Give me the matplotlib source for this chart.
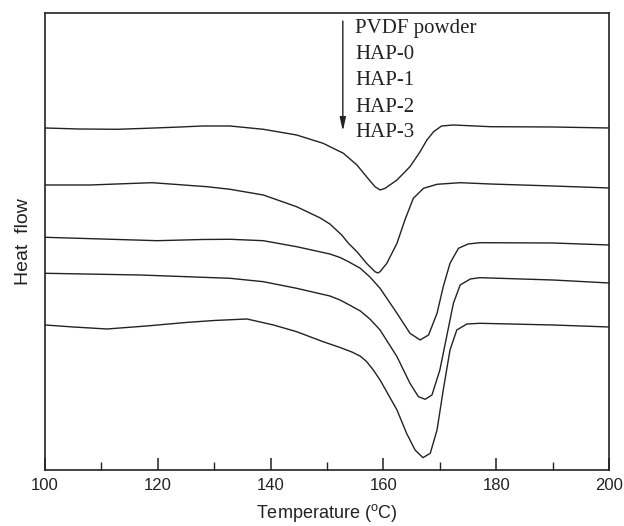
import matplotlib
matplotlib.use("Agg")
from matplotlib import pyplot as plt
from matplotlib.ticker import MultipleLocator

# DSC heating curves, heat flow in arbitrary units (curves offset vertically)
temp_pvdf = [100, 106, 112.8, 117, 122.7, 128, 132.8, 138.7, 144.6, 149.3, 152.9, 155.3, 157.0,
             158.5, 159.4, 160.3, 162.4, 164.7, 166.5, 167.7, 168.9, 170.3, 172.4, 178.9, 190, 200]
flow_pvdf = [372, 371, 370.7, 371.5, 372.7, 374, 374, 370.7, 365, 356.7, 346.7, 335, 323.3,
             313.3, 310, 311.7, 320, 333.3, 348.3, 360, 368.3, 374, 375, 373.3, 373, 372]

temp_hap0 = [100, 108, 119, 128.7, 132.8, 138.7, 144.6, 148.8, 150.5, 152.6, 153.8, 155.3, 157.0,
             158.5, 159.0, 159.4, 160.6, 162.4, 163.8, 165.3, 167.1, 169.5, 173.6, 178.9, 190, 200]
flow_hap0 = [315, 315, 317.3, 313.3, 310.7, 305, 293.3, 282, 276, 265, 256.7, 248.3, 236.7,
             228.3, 227, 228.3, 236.7, 256.7, 280, 301.7, 311.7, 315.7, 317.3, 316, 314, 312]

temp_hap1 = [100, 110, 119.9, 128, 132.8, 138.7, 144.6, 150.5, 152.3, 153.8, 155.9, 157.6, 159.4,
             162.4, 164.7, 166.5, 168, 169.5, 170.6, 171.8, 173.3, 175.0, 177.1, 190, 200]
flow_hap1 = [262.7, 261, 259.3, 260.5, 260.7, 259.3, 253.3, 246, 242.5, 238.3, 231.7, 223, 211.7,
             186.7, 166.7, 160, 165, 186.7, 213.3, 236.7, 251.7, 256, 257.3, 257, 255]

temp_hap2 = [100, 116.8, 132.8, 138.7, 144.6, 150.5, 152.3, 153.8, 155.9, 157.6, 159.4, 162.4,
             164.7, 166.2, 167.4, 168.6, 170.0, 171.2, 172.4, 173.6, 175.4, 177.1, 190, 200]
flow_hap2 = [226.7, 225, 221.7, 218.3, 211.7, 204, 200, 195.5, 189, 181, 170, 143.3,
             116.7, 103.3, 100.7, 105, 130, 163.3, 196.7, 215, 221, 222.3, 220, 217]

temp_hap3 = [100, 105, 111, 118, 125, 130, 135.8, 140.5, 144.6, 149.3, 152.3, 154.4, 155.9,
             157.0, 158.2, 159.4, 162.4, 164.1, 165.6, 167.0, 168.3, 169.5, 170.6, 171.8, 173.0,
             174.8, 177.1, 190, 200]
flow_hap3 = [175, 173, 171, 174, 177.5, 179.5, 181, 175, 168.3, 158.3, 152.5, 148, 143.8,
             138.5, 130, 120, 90, 66.7, 50, 42.3, 46.7, 70, 110, 150, 170,
             176, 176.7, 175, 173]

labels = ["PVDF powder", "HAP-0", "HAP-1", "HAP-2", "HAP-3"]
curves = [(temp_pvdf, flow_pvdf), (temp_hap0, flow_hap0), (temp_hap1, flow_hap1),
          (temp_hap2, flow_hap2), (temp_hap3, flow_hap3)]

plt.rcParams["font.family"] = ["Liberation Sans", "DejaVu Sans"]
plt.rcParams["mathtext.fontset"] = "custom"
plt.rcParams["mathtext.rm"] = "Liberation Sans"

fig = plt.figure(figsize=(6.24, 5.26), dpi=100)
ax = fig.add_axes([0.0721, 0.1065, 0.904, 0.8688])

for temp, flow in curves:
    ax.plot(temp, flow, color="#222222", lw=1.0, solid_joinstyle="round")

ax.set_xlim(100, 200)
ax.set_ylim(30, 487)
ax.set_xticks(range(100, 201, 20))
ax.xaxis.set_minor_locator(MultipleLocator(10))
ax.set_yticks([])
ax.tick_params(axis="x", which="major", direction="in", length=9, width=1.1,
               labelsize=12, pad=6, colors="#222222")
ax.tick_params(axis="x", which="minor", direction="in", length=5.5, width=1.0,
               colors="#222222")
for spine in ax.spines.values():
    spine.set_linewidth(1.2)
    spine.set_color("#222222")

ax.set_xlabel(r"Temperature ($^{\mathrm{o}}$C)", fontsize=13, labelpad=6, color="#222222")
ax.set_ylabel("Heat  flow", fontsize=14, labelpad=9, color="#222222")

# Legend: arrow showing curve order from top to bottom
ax.annotate("", xy=(152.8, 369), xytext=(152.8, 479),
            arrowprops=dict(arrowstyle="-|>,head_width=0.18,head_length=0.8",
                            color="#222222", lw=1.0, shrinkA=0, shrinkB=0))
baselines = [467, 441, 415, 388, 363]
for text, yb in zip(labels, baselines):
    ax.text(155.0, yb, text, family="Liberation Serif", fontsize=15,
            ha="left", va="baseline", color="#222222")

fig.savefig("out.png", dpi=100, facecolor="w")
